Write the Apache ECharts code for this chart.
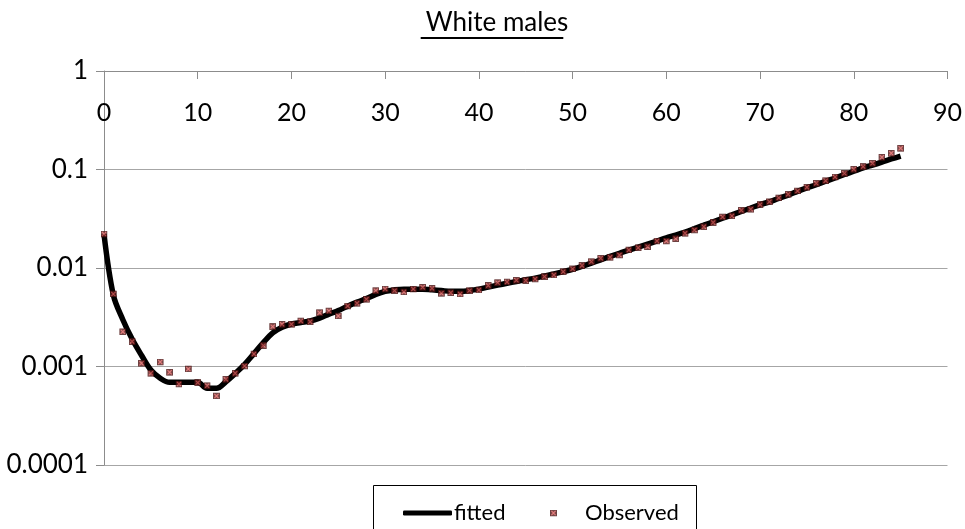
<!DOCTYPE html>
<html>
<head>
<meta charset="utf-8">
<script src="https://cdn.jsdelivr.net/npm/echarts@6/dist/echarts.min.js"></script>
<style>
  html, body { margin: 0; padding: 0; background: #fff; }
  #chart { width: 965px; height: 529px; }
</style>
</head>
<body>
<div id="chart"></div>
<script>
// Age in years (0..85)
const ages = Array.from({ length: 86 }, (_, i) => i);

// Observed death rates per age
const observed = [
  0.0221, 0.00545, 0.00225, 0.00179, 0.00108, 0.000853, 0.00111, 0.000873, 0.000664, 0.000944,
  0.000686, 0.000638, 0.000502, 0.000741, 0.000853, 0.00101, 0.00134, 0.00163, 0.00254, 0.00268,
  0.00268, 0.00290, 0.00285, 0.00352, 0.00366, 0.00326, 0.00411, 0.00438, 0.00481, 0.00589,
  0.00612, 0.00589, 0.00571, 0.00612, 0.00637, 0.00621, 0.00553, 0.00561, 0.00545, 0.00589,
  0.00598, 0.00664, 0.00710, 0.00721, 0.00750, 0.00745, 0.00773, 0.00817, 0.00850, 0.00918,
  0.00980, 0.01060, 0.01160, 0.01254, 0.01283, 0.01355, 0.01524, 0.01607, 0.01644, 0.01879,
  0.01879, 0.01986, 0.02250, 0.02430, 0.02620, 0.02900, 0.03300, 0.03380, 0.03850, 0.03950,
  0.04400, 0.04700, 0.05150, 0.05600, 0.06050, 0.06590, 0.07240, 0.07700, 0.08390, 0.09140,
  0.10040, 0.10700, 0.11560, 0.13300, 0.14600, 0.16400
];

// Fitted curve per age
const fitted = [
  0.0220, 0.00530, 0.00300, 0.00190, 0.00130, 0.00092, 0.00076, 0.00069, 0.00069, 0.00069,
  0.00069, 0.00060, 0.00060, 0.00070, 0.00085, 0.00105, 0.00135, 0.00175, 0.00220, 0.00250,
  0.00270, 0.00280, 0.00290, 0.00310, 0.00340, 0.00370, 0.00410, 0.00450, 0.00490, 0.00540,
  0.00580, 0.00600, 0.00610, 0.00610, 0.00610, 0.00600, 0.00590, 0.00580, 0.00580, 0.00590,
  0.00610, 0.00640, 0.00670, 0.00700, 0.00730, 0.00760, 0.00790, 0.00830, 0.00870, 0.00920,
  0.00970, 0.01040, 0.01120, 0.01210, 0.01310, 0.01410, 0.01520, 0.01630, 0.01750, 0.01880,
  0.02020, 0.02160, 0.02320, 0.02510, 0.02720, 0.02950, 0.03200, 0.03460, 0.03750, 0.04060,
  0.04400, 0.04700, 0.05100, 0.05500, 0.06000, 0.06500, 0.07000, 0.07600, 0.08200, 0.08900,
  0.09600, 0.10400, 0.11100, 0.11900, 0.12800, 0.13700
];

// Axis tick labels
const xTicks = [0, 10, 20, 30, 40, 50, 60, 70, 80, 90];
const yTickLabels = ['0.0001', '0.001', '0.01', '0.1', '1'];

const FONT = 'Lato';
const titleText = 'White males';
const titleSize = 26;
const titleX = 492;

// Square-with-cross marker for the observed rates
const markerSvg =
  "<svg xmlns='http://www.w3.org/2000/svg' width='8' height='8'>" +
  "<rect x='0.75' y='0.75' width='6.5' height='6.5' fill='#6e2424' stroke='#4a1212' stroke-width='1.5'/>" +
  "<path d='M1.6 1.6L6.4 6.4M6.4 1.6L1.6 6.4' stroke='#dc5c5c' stroke-width='1.2'/></svg>";
const markerImg = 'image://data:image/svg+xml;charset=utf-8,' + encodeURIComponent(markerSvg);

// Underline width follows the rendered title width
const ctx = document.createElement('canvas').getContext('2d');
ctx.font = titleSize + 'px ' + FONT;
const titleW = ctx.measureText(titleText).width;

const chart = echarts.init(document.getElementById('chart'));
chart.setOption({
  animation: false,
  textStyle: { fontFamily: FONT },
  title: {
    text: titleText,
    left: titleX,
    textAlign: 'center',
    top: 5,
    textStyle: { fontFamily: FONT, fontSize: titleSize, fontWeight: 'normal', color: '#000' }
  },
  graphic: [
    {
      type: 'line',
      shape: { x1: titleX - titleW / 2, y1: 38, x2: titleX + titleW / 2, y2: 38 },
      style: { stroke: '#000', lineWidth: 2 }
    },
    {
      type: 'rect',
      shape: { x: 373.5, y: 485.5, width: 323, height: 60 },
      style: { fill: 'none', stroke: '#000', lineWidth: 1 },
      z: 1
    }
  ],
  grid: { left: 104, right: 16, top: 71, bottom: 64 },
  legend: [
    {
      data: [{ name: 'fitted', icon: 'roundRect' }],
      left: 398,
      top: 497,
      itemWidth: 49,
      itemHeight: 5,
      itemStyle: { color: '#000' },
      textStyle: { fontFamily: FONT, fontSize: 22, color: '#000', padding: [0, 0, 0, -3] }
    },
    {
      data: [{ name: 'Observed', icon: markerImg }],
      left: 545,
      top: 497,
      itemWidth: 7,
      itemHeight: 7,
      textStyle: { fontFamily: FONT, fontSize: 22, color: '#000', padding: [0, 0, 0, 23] }
    }
  ],
  xAxis: {
    type: 'value',
    position: 'top',
    min: xTicks[0],
    max: xTicks[xTicks.length - 1],
    interval: 10,
    axisLine: { lineStyle: { color: '#8c8c8c', width: 1 } },
    axisTick: { inside: true, length: 8, lineStyle: { color: '#8c8c8c' } },
    axisLabel: { inside: true, margin: 29, fontFamily: FONT, fontSize: 25, color: '#000' },
    splitLine: { show: false }
  },
  yAxis: {
    type: 'log',
    logBase: 10,
    min: 0.0001,
    max: 1,
    axisLine: { show: true, lineStyle: { color: '#8c8c8c', width: 1 } },
    axisTick: { show: true, length: 8, lineStyle: { color: '#8c8c8c' } },
    axisLabel: {
      margin: 16,
      fontFamily: FONT,
      fontSize: 26,
      color: '#000',
      formatter: v => yTickLabels[Math.round(Math.log10(v)) + 4]
    },
    splitLine: { lineStyle: { color: '#a6a6a6', width: 1 } }
  },
  series: [
    {
      name: 'fitted',
      type: 'line',
      data: ages.map((a, i) => [a, fitted[i]]),
      smooth: 0.35,
      symbol: 'none',
      lineStyle: { color: '#000', width: 5.5 },
      itemStyle: { color: '#000' },
      z: 2
    },
    {
      name: 'Observed',
      type: 'scatter',
      data: ages.map((a, i) => [a, observed[i]]),
      symbol: markerImg,
      symbolSize: 7,
      itemStyle: { color: '#6e2424' },
      z: 3
    }
  ]
});
</script>
</body>
</html>
